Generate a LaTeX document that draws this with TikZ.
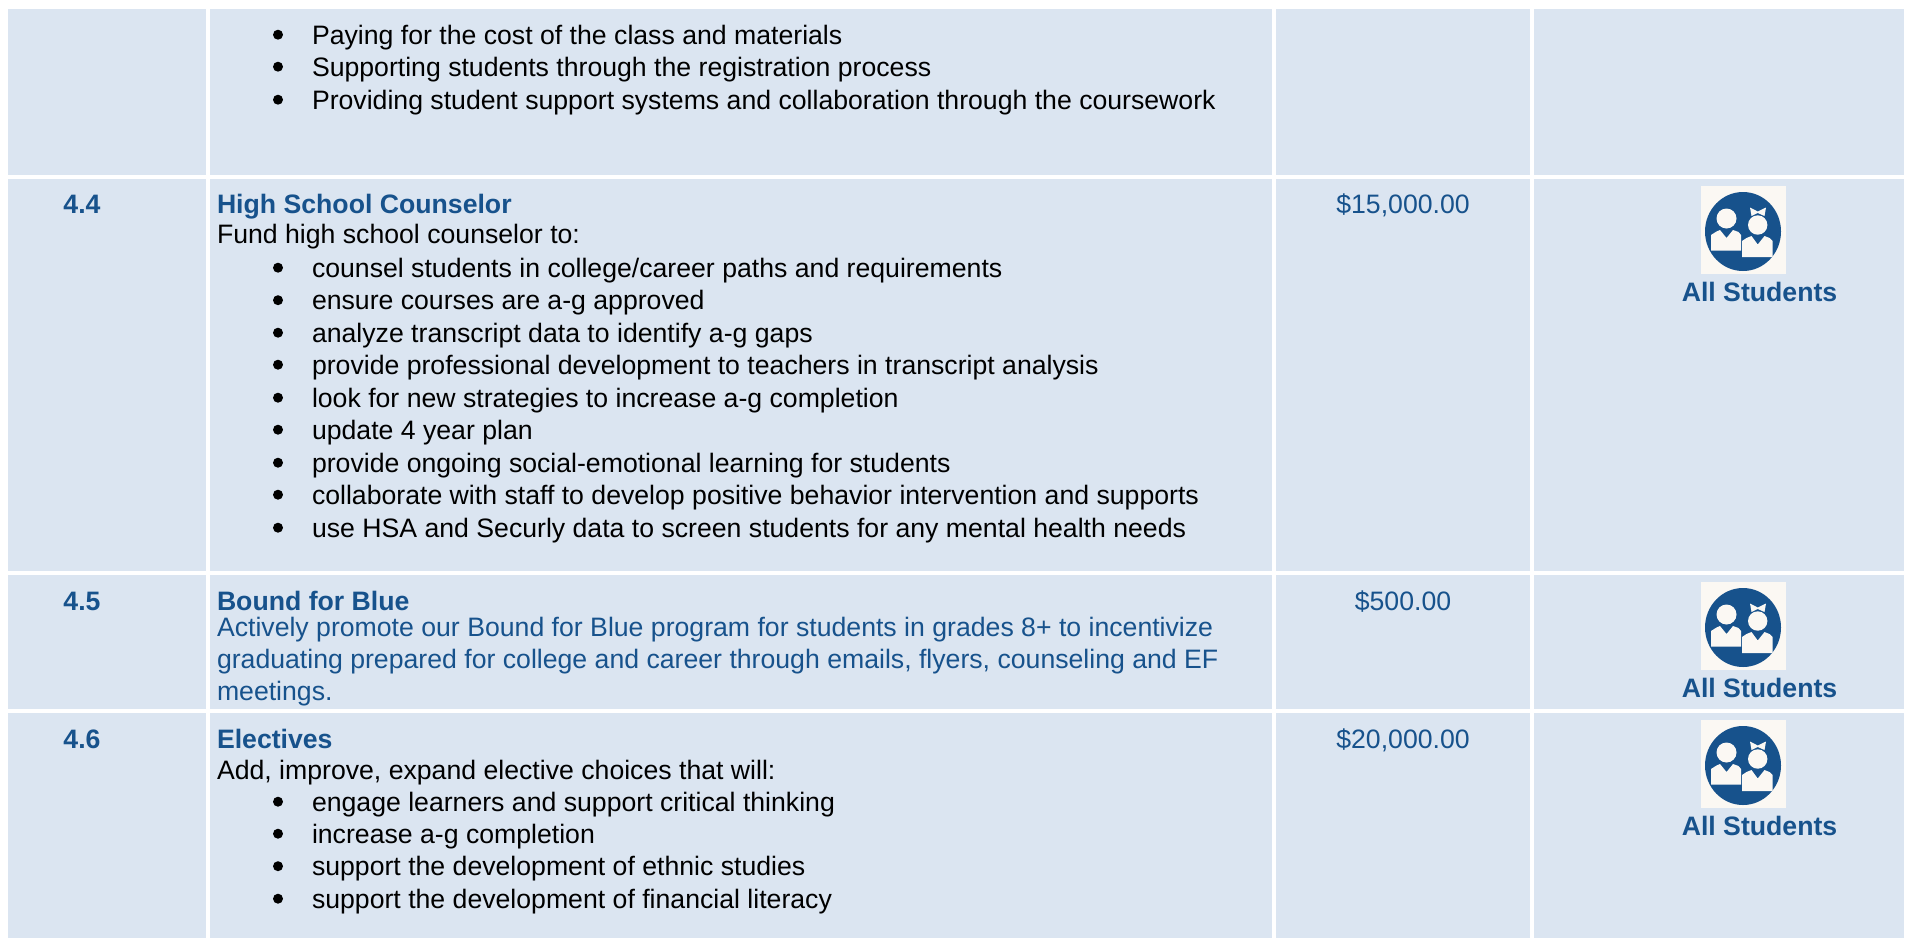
\documentclass[tikz,border=0pt]{standalone}
\usepackage{fontspec}
\setmainfont{Liberation Sans}
\definecolor{cellbg}{HTML}{DBE5F1}
\definecolor{ink}{HTML}{17528C}
\definecolor{iconbg}{HTML}{FBF8F3}
\newcommand{\iconat}[2]{%
\begin{scope}[shift={(#1,#2)}]
\fill[iconbg] (-42.5,-44) rectangle (42.5,44);
\fill[ink] (-0.5,1.5) circle[x radius=38,y radius=39.5];
\fill[iconbg] (-17,-11.5) circle (10);
\fill[iconbg] (-32.5,20.5) -- (-32.5,5) -- (-27,1.5) -- (-23.5,0) -- (-17,8) -- (-10.5,0) -- (-5,2) -- (-2.5,5) -- (-2.5,20.5) -- cycle;
\fill[iconbg] (6.5,-22.5) -- (14.2,-18.5) -- (22.5,-22.5) -- (21,-14) -- (14.2,-17) -- (8,-14) -- cycle;
\fill[iconbg] (14.2,-5) circle (9.7);
\fill[iconbg] (-1.5,27) -- (-1.5,11) -- (3,8) -- (8,6) -- (14.2,14.5) -- (21,6) -- (26,8) -- (29,11) -- (29,27) -- cycle;
\end{scope}}
\begin{document}
\begin{tikzpicture}[x=1pt,y=-1pt,
 body/.style={inner sep=0pt,outer sep=0pt,anchor=base west,font=\fontsize{26.65}{32}\selectfont,text=black},
 blue/.style={body,text=ink},
 head/.style={body,text=ink,font=\fontsize{26.65}{32}\selectfont\bfseries},
 bullet/.style={fill=black,circle,inner sep=0pt,minimum size=10pt},
 center/.style={inner sep=0pt,outer sep=0pt,anchor=base,text=ink,font=\fontsize{26.65}{32}\selectfont},
 centerb/.style={center,font=\fontsize{26.65}{32}\selectfont\bfseries}]
\useasboundingbox (0,0) rectangle (1911,938);
\fill[white] (0,0) rectangle (1911,938);
\foreach \ya/\yb in {9/175,179/571,575/709,713/938}{
 \foreach \xa/\xb in {8/206,210/1272,1276/1530,1534/1904}{
  \fill[cellbg] (\xa,\ya) rectangle (\xb,\yb);}}
\foreach \i/\y/\t in {a/44/{Paying for the cost of the class and materials},
 b/76/{Supporting students through the registration process},
 c/109/{Providing student support systems and collaboration through the coursework},
 d/277/{counsel students in college/career paths and requirements},
 e/309.5/{ensure courses are a-g approved},
 f/342/{analyze transcript data to identify a-g gaps},
 g/374/{provide professional development to teachers in transcript analysis},
 h/407/{look for new strategies to increase a-g completion},
 i/439/{update 4 year plan},
 j/472/{provide ongoing social-emotional learning for students},
 k/504/{collaborate with staff to develop positive behavior intervention and supports},
 l/537/{use HSA and Securly data to screen students for any mental health needs},
 m/811/{engage learners and support critical thinking},
 n/843/{increase a-g completion},
 o/875.5/{support the development of ethnic studies},
 p/908/{support the development of financial literacy}}{
 \node[bullet] (b\i) at (278,\y-9.3) {};
 \node[body] (t\i) at (312,\y) {\t};
}
\node[head] (h44) at (217,213) {High School Counselor};
\node[body] (f44) at (217,243) {Fund high school counselor to:};
\node[head] (h45) at (217,610) {Bound for Blue};
\node[blue] (l1) at (217,636) {Actively promote our Bound for Blue program for students in grades 8+ to incentivize};
\node[blue] (l2) at (217,668) {graduating prepared for college and career through emails, flyers, counseling and EF};
\node[blue] (l3) at (217,700) {meetings.};
\node[head] (h46) at (217,748) {Electives};
\node[body] (f46) at (217,779) {Add, improve, expand elective choices that will:};
\node[centerb] (n44) at (82,213) {4.4};
\node[centerb] (n45) at (82,610) {4.5};
\node[centerb] (n46) at (82,748) {4.6};
\node[center] (c44) at (1403,213) {\$15,000.00};
\node[center] (c45) at (1403,610) {\$500.00};
\node[center] (c46) at (1403,748) {\$20,000.00};
\iconat{1743.5}{230}
\iconat{1743.5}{626}
\iconat{1743.5}{764}
\node[centerb] (s44) at (1759.5,301) {All Students};
\node[centerb] (s45) at (1759.5,697) {All Students};
\node[centerb] (s46) at (1759.5,835) {All Students};
\end{tikzpicture}
\end{document}
